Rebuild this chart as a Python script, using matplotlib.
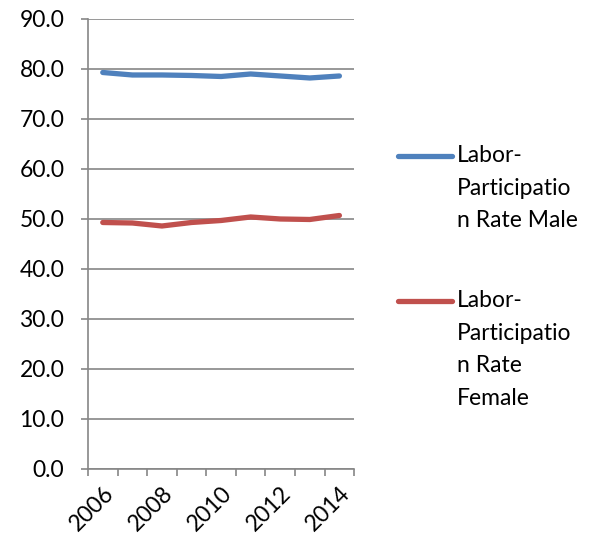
import matplotlib.pyplot as plt
from matplotlib.lines import Line2D

plt.rcParams['font.family'] = ['Lato', 'DejaVu Sans']

years = [2006, 2007, 2008, 2009, 2010, 2011, 2012, 2013, 2014]
male = [79.3, 78.8, 78.8, 78.7, 78.5, 79.0, 78.6, 78.2, 78.6]
female = [49.3, 49.2, 48.6, 49.3, 49.7, 50.4, 50.0, 49.9, 50.7]
names = ['Labor-\nParticipatio\nn Rate Male', 'Labor-\nParticipatio\nn Rate\nFemale']
colors = ['#4F81BD', '#C0504D']

fs = 16.5
fig = plt.figure(figsize=(5.92, 5.47), dpi=100)
ax = fig.add_axes([0.1486, 0.1426, 0.4497, 0.8227])

x = list(range(len(years)))
ax.plot(x, male, color=colors[0], lw=3.8, solid_capstyle='round')
ax.plot(x, female, color=colors[1], lw=3.8, solid_capstyle='round')

ax.set_xlim(-0.5, len(years) - 0.5)
ax.set_ylim(0, 90)
ax.set_yticks(range(0, 91, 10))
ax.set_yticklabels(['%.1f' % v for v in range(0, 91, 10)], fontsize=fs)
ax.set_xticks([i - 0.5 for i in range(len(years) + 1)], minor=False)
ax.set_xticklabels([])
ax.set_xticks(x[::2], minor=True)
ax.set_xticklabels([str(y) for y in years[::2]], minor=True, rotation=45,
                   ha='right', va='top', rotation_mode='anchor', fontsize=fs)
ax.tick_params(axis='x', which='minor', length=0, pad=10)
ax.tick_params(axis='x', which='major', length=5, color='#868686', width=1.2)
ax.tick_params(axis='y', length=5, color='#868686', width=1.2, pad=12)
ax.grid(axis='y', color='#868686', lw=1.2)
ax.set_axisbelow(True)
for s in ['top', 'right']:
    ax.spines[s].set_visible(False)
for s in ['left', 'bottom']:
    ax.spines[s].set_color('#868686')
    ax.spines[s].set_linewidth(1.2)

# legend drawn on the figure, line at first text row
W, H = 592, 547
for name, c, ytop in zip(names, colors, [156, 301]):
    fig.add_artist(Line2D([398 / W, 452 / W], [1 - ytop / H, 1 - ytop / H],
                          color=c, lw=3.8, solid_capstyle='round'))
    fig.text(457 / W, 1 - (ytop - 11) / H, name, fontsize=fs, va='top',
             ha='left', linespacing=1.68)

plt.savefig('out.png', dpi=100)
